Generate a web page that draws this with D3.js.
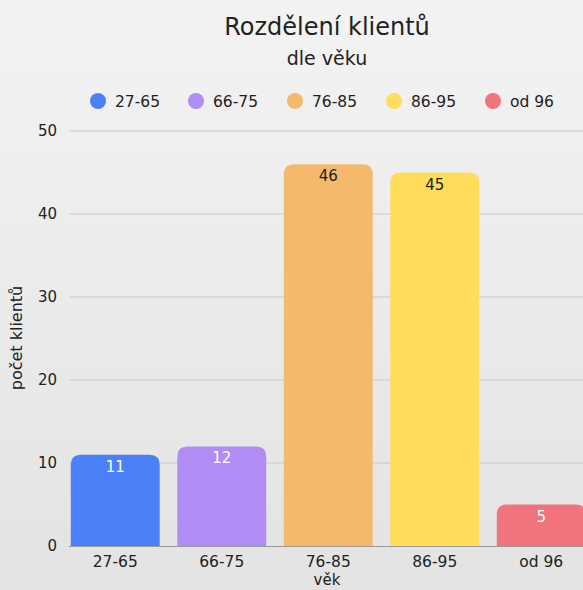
<!DOCTYPE html>
<html><head><meta charset="utf-8">
<script src="https://cdn.jsdelivr.net/npm/d3@7"></script>
<style>html,body{margin:0;padding:0;overflow:hidden}svg{display:block}</style>
</head><body><svg id="c" width="583" height="590"></svg>
<script>
const categories = ["27-65","66-75","76-85","86-95","od 96"];
const values = [11,12,46,45,5];
const colors = ["#4a80f8","#b08cf5","#f4b96c","#ffdc5a","#f0737e"];
const labelColors = ["#ffffff","#ffffff","#222222","#222222","#ffffff"];
const yTicks = [0,10,20,30,40,50];
const title = "Rozdělení klientů";
const subtitle = "dle věku";
const yTitle = "počet klientů";
const xTitle = "věk";

const W=583,H=590;
const font = "'DejaVu Sans', sans-serif";
const svg = d3.select("#c");
const defs = svg.append("defs");
const g = defs.append("linearGradient").attr("id","bg").attr("x1",0).attr("y1",0).attr("x2",0).attr("y2",1);
g.append("stop").attr("offset","0%").attr("stop-color","#f3f3f3");
g.append("stop").attr("offset","100%").attr("stop-color","#e3e3e3");
svg.append("rect").attr("width",W).attr("height",H).attr("fill","url(#bg)");

const x = d3.scaleBand().domain(categories).range([62,594.5]).paddingInner(0.165).paddingOuter(0.0825);
const y = d3.scaleLinear().domain([0,50]).range([546,131]);

// grid
svg.append("g").selectAll("line").data(yTicks.filter(d=>d>0)).join("line")
  .attr("x1",69).attr("x2",W).attr("y1",d=>y(d)).attr("y2",d=>y(d))
  .attr("stroke","#c8c8c8").attr("stroke-width",1);

// y labels
svg.append("g").selectAll("text").data(yTicks).join("text")
  .attr("x",57).attr("y",d=>y(d)).attr("dy","0.36em").attr("text-anchor","end")
  .attr("font-family",font).attr("font-size",15).attr("fill","#222").text(d=>d);

// bars with rounded top
const r = 10;
function barPath(x0,w,yt,yb){
  const rr = Math.min(r,(yb-yt),w/2);
  return `M${x0},${yb}V${yt+rr}Q${x0},${yt} ${x0+rr},${yt}H${x0+w-rr}Q${x0+w},${yt} ${x0+w},${yt+rr}V${yb}Z`;
}
svg.append("g").selectAll("path").data(categories).join("path")
  .attr("d",(d,i)=>barPath(x(d),x.bandwidth(),y(values[i]),y(0)))
  .attr("fill",(d,i)=>colors[i]);

// zero line
svg.append("line").attr("x1",69).attr("x2",W).attr("y1",y(0)+0.5).attr("y2",y(0)+0.5)
  .attr("stroke","#999").attr("stroke-width",1);

// value labels
svg.append("g").selectAll("text").data(categories).join("text")
  .attr("x",d=>x(d)+x.bandwidth()/2).attr("y",(d,i)=>y(values[i])+17)
  .attr("text-anchor","middle").attr("font-family",font).attr("font-size",15)
  .attr("fill",(d,i)=>labelColors[i]).text((d,i)=>values[i]);

// x labels
svg.append("g").selectAll("text").data(categories).join("text")
  .attr("x",d=>x(d)+x.bandwidth()/2).attr("y",567)
  .attr("text-anchor","middle").attr("font-family",font).attr("font-size",15.5)
  .attr("fill","#222").text(d=>d);

// axis titles
svg.append("text").attr("x",327).attr("y",585).attr("text-anchor","middle")
  .attr("font-family",font).attr("font-size",15).attr("fill","#222").text(xTitle);
svg.append("text").attr("transform","translate(22,338) rotate(-90)").attr("text-anchor","middle")
  .attr("font-family",font).attr("font-size",16).attr("fill","#222").text(yTitle);

// title
svg.append("text").attr("x",327).attr("y",35).attr("text-anchor","middle")
  .attr("font-family",font).attr("font-size",24).attr("fill","#222").text(title);
svg.append("text").attr("x",327).attr("y",65).attr("text-anchor","middle")
  .attr("font-family",font).attr("font-size",19).attr("fill","#222").text(subtitle);

// legend
const lx = [98,196,295,394,493];
const lg = svg.append("g").selectAll("g").data(categories).join("g")
  .attr("transform",(d,i)=>`translate(${lx[i]},101)`);
lg.append("circle").attr("r",8).attr("fill",(d,i)=>colors[i]);
lg.append("text").attr("x",17).attr("dy","0.36em").attr("font-family",font).attr("font-size",15.5)
  .attr("fill","#222").text(d=>d);
</script></body></html>
